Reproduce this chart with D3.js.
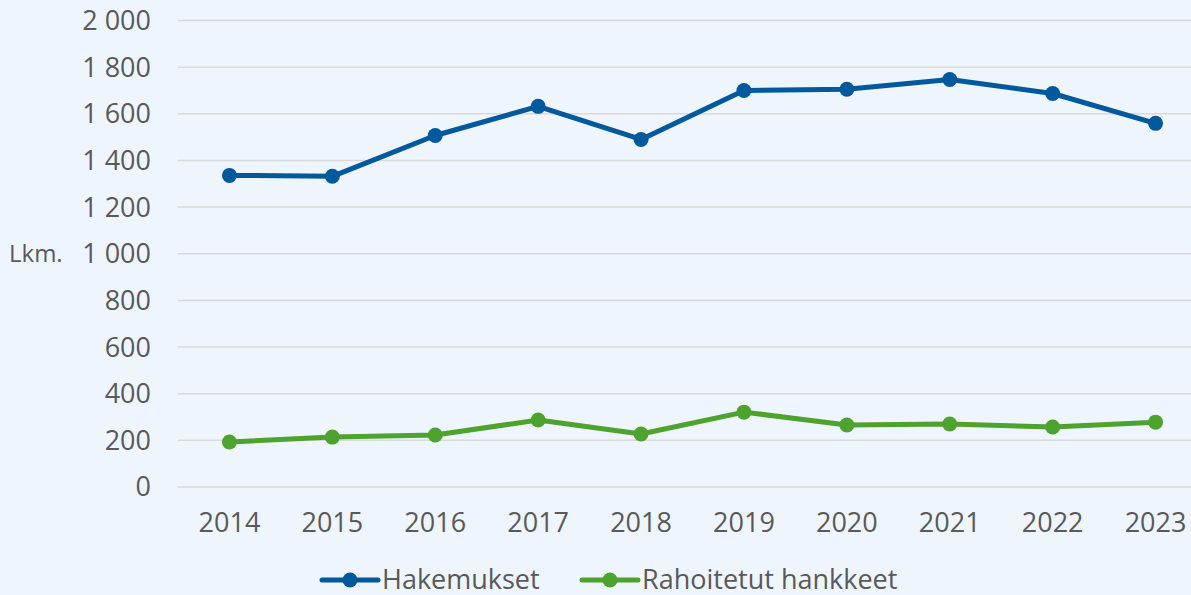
<!DOCTYPE html>
<html>
<head>
<meta charset="utf-8">
<script src="https://cdn.jsdelivr.net/npm/d3@7"></script>
<style>
  body { margin: 0; background: #eef5fd; }
  svg { display: block; font-family: "Open Sans", sans-serif; }
</style>
</head>
<body>
<div id="chart"></div>
<script>
// hakemukset ja rahoitetut hankkeet 2014-2023
const years = ["2014", "2015", "2016", "2017", "2018", "2019", "2020", "2021", "2022", "2023"];
const hakemukset = [1336, 1332, 1507, 1632, 1490, 1700, 1705, 1747, 1687, 1559];
const rahoitetut = [193, 214, 223, 287, 227, 321, 266, 270, 257, 278];
const yTicks = [0, 200, 400, 600, 800, 1000, 1200, 1400, 1600, 1800, 2000];
const seriesNames = ["Hakemukset", "Rahoitetut hankkeet"];

const width = 1191, height = 595;
const colors = ["#00599c", "#4ea22e"];

let svg = d3.select("#chart")
    .append("svg")
    .attr("width", width)
    .attr("height", height);

svg.append("rect")
    .attr("width", width)
    .attr("height", height)
    .attr("fill", "#eef5fd");

let x = d3.scaleBand()
    .domain(years)
    .range([178, 178 + 1029]);
let y = d3.scaleLinear()
    .domain([0, 2000])
    .range([487, 20.5]);

// gridlines
svg.append("g")
    .selectAll("line")
    .data(yTicks)
    .enter()
    .append("line")
    .attr("x1", 178)
    .attr("x2", width)
    .attr("y1", d => y(d))
    .attr("y2", d => y(d))
    .attr("stroke", "#d9d9d9")
    .attr("stroke-width", 1.5);

const fmt = d => d3.format(",")(d).replace(",", " ");

// y axis labels
svg.append("g")
    .selectAll("text")
    .data(yTicks)
    .enter()
    .append("text")
    .attr("x", 151)
    .attr("y", d => y(d))
    .attr("dy", "0.35em")
    .attr("text-anchor", "end")
    .attr("font-size", 27)
    .attr("fill", "#595959")
    .text(fmt);

svg.append("text")
    .attr("x", 9)
    .attr("y", y(1000))
    .attr("dy", "0.35em")
    .attr("font-size", 24)
    .attr("fill", "#595959")
    .text("Lkm.");

// x axis labels
svg.append("g")
    .selectAll("text")
    .data(years)
    .enter()
    .append("text")
    .attr("x", d => x(d) + x.bandwidth() / 2)
    .attr("y", 523)
    .attr("dy", "0.35em")
    .attr("text-anchor", "middle")
    .attr("font-size", 27)
    .attr("fill", "#595959")
    .text(d => d);

let series = [hakemukset, rahoitetut];
let line = d3.line()
    .x((d, i) => x(years[i]) + x.bandwidth() / 2)
    .y(d => y(d));

series.forEach((vals, k) => {
    svg.append("path")
        .datum(vals)
        .attr("fill", "none")
        .attr("stroke", colors[k])
        .attr("stroke-width", 5)
        .attr("stroke-linejoin", "round")
        .attr("d", line);
    svg.append("g")
        .selectAll("circle")
        .data(vals)
        .enter()
        .append("circle")
        .attr("cx", (d, i) => x(years[i]) + x.bandwidth() / 2)
        .attr("cy", d => y(d))
        .attr("r", 7.5)
        .attr("fill", colors[k]);
});

// legend
let legendX = [322, 582];
seriesNames.forEach((name, k) => {
    let g = svg.append("g").attr("transform", `translate(${legendX[k]}, 580)`);
    g.append("line")
        .attr("x1", 0).attr("x2", 56)
        .attr("stroke", colors[k])
        .attr("stroke-width", 5)
        .attr("stroke-linecap", "round");
    g.append("circle")
        .attr("cx", 28)
        .attr("r", 7.5)
        .attr("fill", colors[k]);
    g.append("text")
        .attr("x", 60)
        .attr("dy", "0.35em")
        .attr("font-size", 27)
        .attr("fill", "#595959")
        .text(name);
});
</script>
</body>
</html>
